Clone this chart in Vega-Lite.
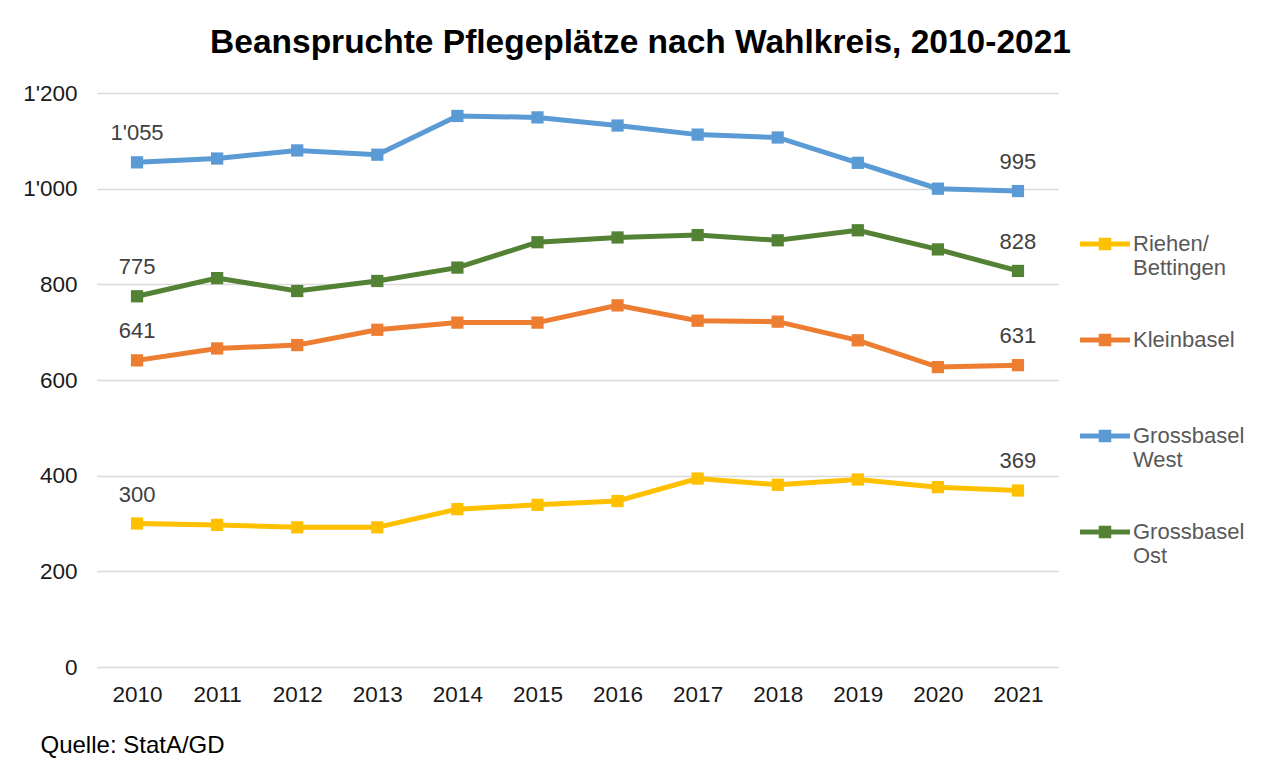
{
  "$schema": "https://vega.github.io/schema/vega-lite/v6.json",
  "width": 961,
  "height": 574,
  "autosize": {"type": "none"},
  "padding": {"left": 97, "top": 93, "right": 222, "bottom": 98},
  "background": "white",
  "config": {
    "font": "Liberation Sans",
    "view": {"stroke": null},
    "locale": {"number": {"decimal": ".", "thousands": "'", "grouping": [3], "currency": ["", ""]}}
  },
  "title": {
    "text": "Beanspruchte Pflegeplätze nach Wahlkreis, 2010-2021",
    "font": "Liberation Sans",
    "fontSize": 33.5,
    "fontWeight": "bold",
    "color": "#000000",
    "anchor": "middle",
    "frame": "group",
    "dx": 63,
    "offset": 22
  },
  "data": {
    "values": [
      {"year": "2010", "region": "Riehen/|Bettingen", "value": 300},
      {"year": "2011", "region": "Riehen/|Bettingen", "value": 297},
      {"year": "2012", "region": "Riehen/|Bettingen", "value": 292},
      {"year": "2013", "region": "Riehen/|Bettingen", "value": 292},
      {"year": "2014", "region": "Riehen/|Bettingen", "value": 330},
      {"year": "2015", "region": "Riehen/|Bettingen", "value": 339},
      {"year": "2016", "region": "Riehen/|Bettingen", "value": 347},
      {"year": "2017", "region": "Riehen/|Bettingen", "value": 394},
      {"year": "2018", "region": "Riehen/|Bettingen", "value": 381},
      {"year": "2019", "region": "Riehen/|Bettingen", "value": 392},
      {"year": "2020", "region": "Riehen/|Bettingen", "value": 376},
      {"year": "2021", "region": "Riehen/|Bettingen", "value": 369},
      {"year": "2010", "region": "Kleinbasel| ", "value": 641},
      {"year": "2011", "region": "Kleinbasel| ", "value": 666},
      {"year": "2012", "region": "Kleinbasel| ", "value": 673},
      {"year": "2013", "region": "Kleinbasel| ", "value": 705},
      {"year": "2014", "region": "Kleinbasel| ", "value": 720},
      {"year": "2015", "region": "Kleinbasel| ", "value": 720},
      {"year": "2016", "region": "Kleinbasel| ", "value": 756},
      {"year": "2017", "region": "Kleinbasel| ", "value": 724},
      {"year": "2018", "region": "Kleinbasel| ", "value": 722},
      {"year": "2019", "region": "Kleinbasel| ", "value": 683},
      {"year": "2020", "region": "Kleinbasel| ", "value": 627},
      {"year": "2021", "region": "Kleinbasel| ", "value": 631},
      {"year": "2010", "region": "Grossbasel|West", "value": 1055},
      {"year": "2011", "region": "Grossbasel|West", "value": 1063},
      {"year": "2012", "region": "Grossbasel|West", "value": 1080},
      {"year": "2013", "region": "Grossbasel|West", "value": 1071},
      {"year": "2014", "region": "Grossbasel|West", "value": 1152},
      {"year": "2015", "region": "Grossbasel|West", "value": 1149},
      {"year": "2016", "region": "Grossbasel|West", "value": 1132},
      {"year": "2017", "region": "Grossbasel|West", "value": 1113},
      {"year": "2018", "region": "Grossbasel|West", "value": 1107},
      {"year": "2019", "region": "Grossbasel|West", "value": 1054},
      {"year": "2020", "region": "Grossbasel|West", "value": 1000},
      {"year": "2021", "region": "Grossbasel|West", "value": 995},
      {"year": "2010", "region": "Grossbasel|Ost", "value": 775},
      {"year": "2011", "region": "Grossbasel|Ost", "value": 813},
      {"year": "2012", "region": "Grossbasel|Ost", "value": 786},
      {"year": "2013", "region": "Grossbasel|Ost", "value": 807},
      {"year": "2014", "region": "Grossbasel|Ost", "value": 835},
      {"year": "2015", "region": "Grossbasel|Ost", "value": 888},
      {"year": "2016", "region": "Grossbasel|Ost", "value": 898},
      {"year": "2017", "region": "Grossbasel|Ost", "value": 903},
      {"year": "2018", "region": "Grossbasel|Ost", "value": 892},
      {"year": "2019", "region": "Grossbasel|Ost", "value": 913},
      {"year": "2020", "region": "Grossbasel|Ost", "value": 873},
      {"year": "2021", "region": "Grossbasel|Ost", "value": 828}
    ]
  },
  "encoding": {
    "x": {
      "field": "year",
      "type": "ordinal",
      "scale": {"type": "point", "padding": 0.5},
      "axis": {
        "labelAngle": 0,
        "labelFontSize": 22.5,
        "labelColor": "#1a1a1a",
        "labelPadding": 16,
        "ticks": false,
        "domain": false,
        "title": "Quelle: StatA/GD",
        "titleFontSize": 24,
        "titleFontWeight": "normal",
        "titleColor": "#000000",
        "titleAnchor": "start",
        "titleAlign": "left",
        "titleBaseline": "middle",
        "titleX": -57,
        "titleY": 78
      }
    },
    "y": {
      "field": "value",
      "type": "quantitative",
      "scale": {"domain": [0, 1200]},
      "axis": {
        "values": [0, 200, 400, 600, 800, 1000, 1200],
        "format": ",d",
        "labelFontSize": 22.5,
        "labelColor": "#1a1a1a",
        "labelPadding": 20,
        "ticks": false,
        "domain": false,
        "gridColor": "#d9d9d9",
        "gridWidth": 1.5,
        "title": null
      }
    }
  },
  "layer": [
    {
      "mark": {"type": "line", "strokeWidth": 5},
      "encoding": {
        "color": {
          "field": "region",
          "type": "nominal",
          "scale": {
            "domain": ["Riehen/|Bettingen", "Kleinbasel| ", "Grossbasel|West", "Grossbasel|Ost"],
            "range": ["#FFC000", "#ED7D31", "#5B9BD5", "#548235"]
          },
          "legend": null
        }
      }
    },
    {
      "mark": {"type": "point", "shape": "square", "filled": true, "size": 150, "opacity": 1},
      "encoding": {
        "color": {
          "field": "region",
          "type": "nominal",
          "scale": {
            "domain": ["Riehen/|Bettingen", "Kleinbasel| ", "Grossbasel|West", "Grossbasel|Ost"],
            "range": ["#FFC000", "#ED7D31", "#5B9BD5", "#548235"]
          },
          "legend": {
            "orient": "none",
            "legendX": 983,
            "legendY": 126,
            "title": null,
            "labelExpr": "split(datum.label, '|')",
            "labelFontSize": 22,
            "labelColor": "#595959",
            "labelLimit": 200,
            "labelOffset": 3,
            "symbolType": "M-1,-0.1L1,-0.1L1,0.1L-1,0.1Z M-0.25,-0.25L0.25,-0.25L0.25,0.25L-0.25,0.25Z",
            "symbolSize": 2500,
            "symbolStrokeWidth": 0,
            "symbolOpacity": 1,
            "rowPadding": 36
          }
        }
      }
    },
    {
      "transform": [{"filter": "datum.year == '2010' || datum.year == '2021'"}],
      "mark": {"type": "text", "dy": -29, "fontSize": 22, "color": "#404040"},
      "encoding": {
        "text": {"field": "value", "type": "quantitative", "format": ",d"}
      }
    }
  ],
  "resolve": {"scale": {"color": "independent"}, "legend": {"color": "independent"}}
}
